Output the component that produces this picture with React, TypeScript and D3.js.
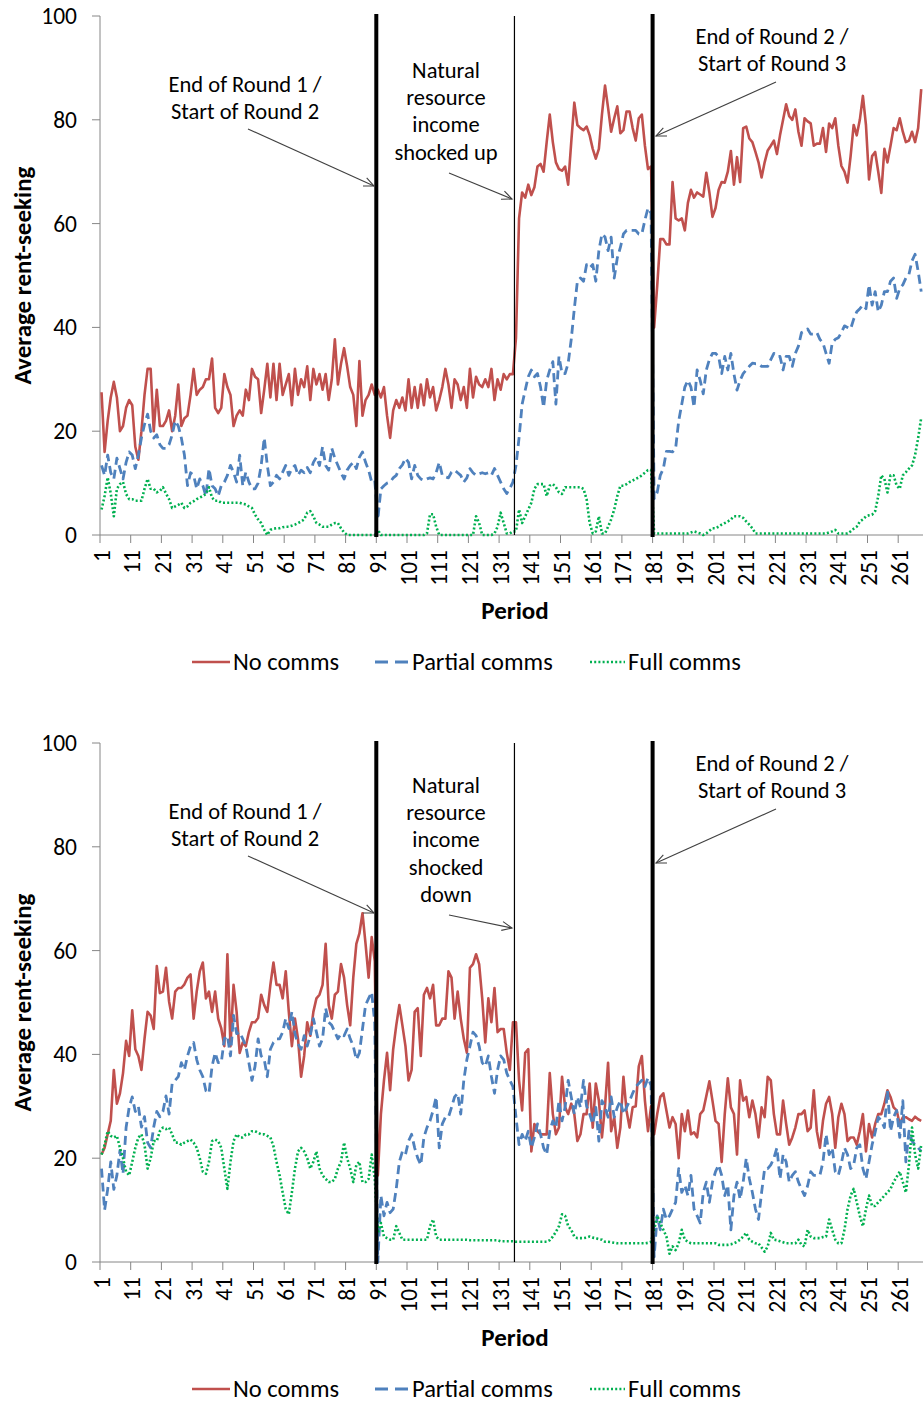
import React from "react";
import * as d3 from "d3";

// ---------- DATA ----------
// Top panel: natural resource income shocked up
const topNoComms = [
  27.5, 16, 22, 26.5, 29.5, 26.5, 20, 21, 24.5, 26,
  25, 17, 14.5, 20, 27, 32, 32, 20, 28, 21,
  21, 22, 24, 20, 23, 29, 21, 22.5, 23, 27,
  32, 27, 28, 28.5, 30, 30, 34, 24.5, 23.5, 24.5,
  31, 28.5, 27, 21, 23, 24, 23, 28, 26, 32,
  30.5, 30, 23.5, 28, 33, 26.5, 33, 26, 33, 27,
  29, 31, 25, 32, 27, 30, 28.5, 32.5, 26, 32,
  29, 31, 28, 31, 26, 30, 37.7, 29, 33, 36,
  32.5, 28.5, 27, 21, 33.5, 23, 26, 27, 29, 27,
  28, 26.5, 28.5, 23, 18.7, 24, 26, 24.5, 26.5, 24,
  30, 24.5, 28.5, 24.5, 29, 25, 30, 26.5, 28.5, 24,
  26, 28.5, 32, 29, 24.5, 30, 29, 26, 28.5, 24.5,
  32, 26.5, 30.5, 29, 28.5, 30, 28.5, 32, 26, 30,
  28, 31, 30, 31, 31, 38, 61, 66, 65, 67.5,
  65.5, 67, 71, 71.5, 70, 75.7, 81, 75.7, 71.8, 70.5,
  70.2, 71, 67.5, 75.7, 83.3, 79, 78.4, 78, 78.7, 77,
  74.4, 72.5, 74.4, 81, 86.6, 82.3, 77.7, 80.3, 82.6, 77.4,
  78, 81.6, 81.6, 78.4, 76, 80.3, 81, 75, 70.5, 71,
  40, 48, 57, 57, 56, 56, 68, 61, 60.6, 61,
  58.7, 64, 66.5, 65, 66, 65.6, 65.2, 69.8, 66, 61.3,
  63, 66.5, 68, 67.9, 70, 74, 67.5, 72.8, 68, 78.4,
  78.7, 76.4, 75.7, 73.8, 71.8, 68.9, 71.8, 74.1, 75, 76,
  73.4, 77, 80, 83, 80.7, 80, 82, 77.7, 75, 80.3,
  79.7, 79.3, 75, 75.4, 75.4, 78.4, 73.8, 79.3, 78.4, 80.3,
  75, 71.1, 70, 67.9, 73, 79, 77, 80, 84.6, 79,
  68.5, 73, 73.8, 70, 65.9, 74.4, 71.8, 75, 78.4, 78,
  80.3, 77.7, 75.7, 76, 77.7, 75.7, 78.4, 85.9,
];

const topPartialComms = [
  13.4, 11.5, 15.4, 12, 10.8, 14.8, 12.8, 10.8, 14, 16,
  15.4, 12.8, 15.4, 18.7, 21.3, 23.3, 20, 18.7, 19.3, 17.4,
  16.7, 16.7, 17.4, 19.3, 22, 21, 18.7, 15.4, 9.5, 12,
  11.5, 8.9, 10.8, 9.5, 7.5, 12.8, 9.5, 8.9, 7.5, 9.5,
  10.2, 11.5, 13.4, 12.1, 10.2, 15.4, 9.5, 12.1, 10.2, 8.9,
  8.9, 10, 13.4, 18.7, 13.4, 9.5, 10.2, 11.5, 10.8, 12.1,
  13.4, 11.5, 12.8, 13.4, 11.5, 12.5, 12, 13, 12, 14,
  15, 13.4, 17, 13.4, 12.5, 16.7, 14.8, 13.4, 12, 10.8,
  12.5, 13.4, 14, 12.8, 15, 16, 14, 12.5, 10.2, 10.5,
  3, 8.9, 9.5, 10, 10.2, 11, 11.5, 12.8, 13.5, 14.8,
  14, 10.8, 13.4, 11.5, 10.8, 10.5, 10.8, 11, 10.8, 12,
  14, 11.5, 11.2, 11, 12.1, 12.5, 12, 11.5, 10.2, 11,
  12.8, 12, 11.5, 11.8, 12, 11.8, 12, 11.5, 12.8, 11.5,
  10.2, 8.9, 8, 9, 10.2, 13.4, 18.7, 25.2, 27.9, 30.5,
  31.8, 30.5, 31.1, 28.5, 24.6, 29.8, 31.8, 33.4, 25.2, 34.4,
  31.1, 31.1, 33.1, 37.7, 43.6, 48.9, 49.5, 48.9, 52.1, 51.5,
  52.1, 48.9, 54.8, 58, 57.4, 54.8, 57.4, 49.5, 53.4, 55.4,
  58, 58.7, 58.7, 58.7, 58.7, 58, 58, 60.7, 63, 62,
  7, 8.2, 11.5, 12.8, 16.1, 16.1, 16, 16.7, 22, 25.2,
  28.5, 29.8, 28.5, 24.6, 31.8, 29.8, 27.2, 31.8, 33.8, 35,
  35, 34.4, 31.1, 34.4, 31.8, 35, 31, 27.9, 29.8, 31.1,
  31.8, 32.5, 33.1, 33, 33, 32.5, 32.5, 32.5, 33.8, 35,
  34.4, 34.4, 31.8, 34.4, 34.4, 32.5, 35, 36.4, 39, 39.3,
  39.7, 38.7, 38.7, 39, 37.7, 37, 35, 33.1, 37, 37.7,
  38, 39, 40.3, 40, 39.7, 41.6, 43, 43.6, 44.3, 43.6,
  48.2, 44.3, 46.9, 43, 44.3, 46.9, 46.9, 48.9, 49.5, 45.6,
  47.5, 48.2, 49.5, 50.2, 52.8, 54.1, 50.8, 46.9,
];

const topFullComms = [
  4.9, 7.5, 11.1, 8, 3.6, 8.9, 9.8, 10.2, 7.9, 6.9,
  6.9, 6.6, 6.6, 6.6, 8.9, 10.8, 8.9, 8.9, 8.2, 8.5,
  9.2, 8, 6.9, 5.2, 5.5, 5.8, 6.2, 5.2, 5.5, 6.2,
  6.5, 6.9, 7.2, 7.5, 7.9, 9.2, 7.2, 6.6, 6.6, 6.2,
  6.2, 6.2, 6.2, 6.2, 6.2, 6.2, 6, 5.9, 5.5, 5.2,
  3.9, 3, 2.3, 1, 0, 1, 1.2, 1.3, 1.3, 1.5,
  1.6, 1.6, 1.8, 2, 2.3, 2.6, 3, 4.3, 4.6, 3.6,
  2.3, 2, 1.6, 1.6, 1.6, 2, 2.3, 2.3, 1.3, 0.5,
  0, 0, 0, 0, 0, 0, 0, 0, 0, 0,
  1, 0, 0, 0, 0, 0, 0, 0, 0, 0,
  0, 0, 0, 0, 0, 0, 0.3, 4, 4, 1.6,
  0, 0, 0, 0, 0, 0, 0, 0, 0, 0,
  0, 0, 3.6, 2.3, 0, 0, 0, 0, 0.3, 1.6,
  4.3, 2.3, 0.3, 0.3, 0.7, 0.7, 4.9, 2.3, 3.6, 4.9,
  6.2, 8.9, 9.8, 9.8, 9.8, 7.5, 9.5, 9.8, 9.2, 8.2,
  7.9, 9.2, 9.2, 9.2, 9.2, 9.2, 9.2, 8.9, 6.9, 2.3,
  0.3, 0.7, 3.6, 0.3, 0.3, 1.6, 3, 4.9, 7.5, 9.5,
  9.5, 9.8, 10.2, 10.5, 10.8, 11.1, 11.5, 12, 12.5, 12.5,
  0.3, 0.3, 0.3, 0.3, 0.3, 0.3, 0.3, 0.3, 0.3, 0.3,
  0.3, 0.3, 0.5, 0.7, 0.5, 0.3, 0, 0.3, 0.8, 1.3,
  1.3, 1.6, 2, 2.3, 2.6, 3, 3.6, 3.6, 3.6, 3.3,
  2.6, 2, 1.3, 0.3, 0.3, 0.3, 0.3, 0.3, 0.3, 0.3,
  0.3, 0.3, 0.3, 0.3, 0.3, 0.3, 0.3, 0.3, 0.3, 0.3,
  0.3, 0.3, 0.3, 0.3, 0.3, 0.3, 0.3, 0.5, 0.7, 1,
  0.3, 0.3, 0.3, 0.3, 0.7, 1.2, 1.6, 2.6, 3, 3.6,
  3.8, 3.9, 4.6, 7.5, 11.5, 10.8, 8.2, 11.5, 11.5, 9.5,
  8.9, 11.5, 12.1, 12.8, 13.4, 15.4, 18.7, 22.6,
];

// Bottom panel: natural resource income shocked down
const bottomNoComms = [
  20.7, 22, 24.6, 27.2, 37, 30.5, 32.5, 36.4, 42.6, 39.7,
  48.5, 41, 39.7, 37, 43, 48.2, 47.5, 44.9, 57, 51.8,
  52.1, 56.7, 50.2, 46.9, 52.1, 52.8, 52.8, 53.5, 54.8, 55.4,
  46.9, 52.1, 56, 57.7, 50.8, 52.1, 48.2, 52.1, 46.9, 45,
  41.6, 59.3, 41.6, 53.4, 48.2, 40.3, 42.3, 41.6, 44.3, 46.2,
  46.2, 47, 51.5, 49.5, 48.2, 53.4, 57.7, 53.4, 53.4, 50.8,
  56, 48.2, 41.6, 46.9, 43, 35.7, 39.7, 46.2, 43.6, 48.2,
  50.8, 51.5, 53.4, 61.3, 49.5, 46.9, 51.5, 52.1, 57.4, 54.8,
  49.5, 45.6, 54.8, 61.3, 63.3, 67.2, 61.3, 54.8, 62.6, 58,
  16.7, 28.5, 35, 40.3, 33.1, 41, 45.6, 49.5, 45.6, 41.6,
  35, 37, 48.2, 48.9, 39.7, 51.5, 52.8, 50.8, 53.4, 45.6,
  45.6, 46.9, 46.9, 56, 54.8, 46.9, 52.1, 46.9, 43, 40.3,
  56.7, 57.4, 59.3, 57.4, 50.8, 42.3, 50.8, 46.2, 52.8, 44.3,
  44.9, 44.9, 40.3, 37, 46.2, 46.2, 35, 29.2, 40.3, 41,
  21.3, 26.6, 25.2, 24.6, 24.6, 24.6, 36.4, 28.5, 24.6, 25.9,
  35.7, 29.8, 28.5, 30.5, 28.5, 23.3, 24.6, 28.5, 28.5, 34.4,
  25.9, 34.4, 31.1, 24, 30, 38.4, 25.2, 27.9, 22, 25.9,
  35.7, 29.2, 25.9, 29.8, 30, 37.7, 39.7, 31.1, 25.2, 30,
  24.6, 28.5, 31.8, 32.5, 29.2, 25.9, 27.9, 26.6, 20, 28.5,
  25.2, 29.2, 24.6, 25, 24, 28.5, 29.2, 32, 34.8, 31.1,
  27.2, 26.6, 19.3, 28.5, 35.4, 29.8, 28.5, 20.7, 35, 31.1,
  31.8, 27.9, 31.1, 28.5, 24, 29.8, 27.9, 35.7, 35, 28.5,
  24.6, 24.6, 31.1, 26.6, 22.6, 24, 25.9, 28.5, 28.5, 29.2,
  25.2, 25.9, 33.1, 25.2, 22, 27.2, 30.5, 31.8, 28.5, 22,
  27.9, 30.5, 28.5, 23.3, 24, 24, 22.6, 25.2, 28.5, 21.3,
  26.6, 24, 26.6, 28.5, 28.5, 30.5, 33.1, 31.8, 29.8, 29.2,
  26.6, 27.9, 27.9, 27.5, 27.2, 28, 27.5, 27.2,
];

const bottomPartialComms = [
  18, 10, 14, 19.3, 14, 16.7, 21.5, 17, 25.9, 29.8,
  31.8, 29, 30, 26, 28, 23, 22, 26, 29, 28,
  29, 32, 28.5, 34.4, 35, 35.7, 38.4, 37, 39.7, 41.6,
  42.3, 39, 37, 35.7, 33, 32.5, 37.7, 40.3, 38.4, 38.4,
  43, 43.6, 39.7, 47.5, 44, 44.3, 43, 41.6, 38.4, 35,
  37.7, 43, 39.7, 39, 35.7, 41, 42.3, 43, 43, 44.3,
  46.9, 45, 48.2, 44, 42, 41, 43.6, 41.6, 43.6, 46.9,
  44.3, 41.6, 43, 48.9, 46.2, 45.6, 44.3, 43, 44, 43.6,
  44.9, 43, 41.6, 39, 40.3, 44.9, 49.5, 50.8, 52, 46,
  0, 12.8, 8.9, 11.5, 9.5, 10.2, 14.1, 19.3, 21.3, 20.7,
  23.3, 24.6, 22, 20, 18.7, 24, 25.9, 27.2, 29.2, 31.8,
  22, 26.6, 27.9, 27.9, 29.8, 31.8, 32.5, 28.5, 35, 39,
  41.6, 44.3, 43.6, 41.6, 38.4, 37.7, 39.7, 35.7, 32.5, 37,
  39.7, 39, 36.4, 35, 33.8, 27.9, 22.6, 24.6, 23.3, 25.2,
  22, 24, 26.6, 24.6, 22, 20.7, 25.2, 27.2, 25.9, 31.1,
  27.2, 29.8, 35, 31.8, 28.5, 31.8, 29.8, 35, 30, 28.5,
  26.6, 29.8, 23.3, 31.1, 29.8, 27.9, 31.8, 27.9, 29.8, 31.1,
  28.5, 29.8, 31, 32.5, 33.8, 34.4, 35, 33.8, 35.5, 34,
  1, 8.9, 6.2, 10.2, 8.2, 8.9, 10.2, 11.5, 18, 13.4,
  14.8, 12.8, 16.7, 10.2, 8.9, 7.5, 13.4, 15.4, 11.5, 15.4,
  17.4, 18.7, 16.7, 12.8, 14.8, 6.2, 12.8, 15.4, 12.1, 15.4,
  20, 16.1, 13.4, 10.2, 8.2, 13.4, 18, 18, 18.7, 20,
  22, 16, 20.7, 19.3, 15.4, 16.7, 17.4, 15.4, 14, 12.8,
  14.7, 17.4, 16.7, 16.7, 16.7, 19.3, 24.6, 20.7, 22, 17.4,
  16.7, 19, 22, 20.7, 18, 18.7, 22, 22.6, 18, 16,
  19.3, 22.6, 25, 27.9, 27.2, 25.9, 33.1, 25.2, 27.9, 29.2,
  24, 31.1, 19.3, 25.2, 23.3, 22.6, 22, 21.3,
];

const bottomFullComms = [
  20.7, 22.6, 25.2, 24.3, 24, 24.3, 22, 20, 17.4, 16.7,
  19.3, 22, 24, 24.6, 22.6, 18, 20, 23.3, 23.3, 25.2,
  25.9, 25.6, 25.9, 24.6, 23, 23, 22.6, 23, 23.3, 23.6,
  23, 22, 20, 17.4, 17, 19.3, 23.3, 23.6, 23.3, 22,
  18, 14.1, 19.3, 23.3, 24.6, 24, 24, 24.6, 24.6, 25.2,
  25.2, 24.9, 24.6, 24.6, 24.3, 24, 22.3, 19.3, 16.7, 13.4,
  10.2, 9.2, 13.4, 18, 21.3, 22, 21.3, 20, 18, 19.3,
  21.3, 18, 16.7, 16, 15.4, 15.4, 16, 18, 19.3, 23,
  20, 18, 15.4, 18.7, 19.3, 15.4, 15.4, 16, 20.7, 16,
  5.6, 7.5, 4.9, 4.6, 4.3, 4.3, 6.9, 5.6, 4.3, 4.3,
  4.3, 4.3, 4.3, 4.3, 4.3, 4.3, 4.3, 6.9, 8.2, 4.9,
  4.3, 4.3, 4.3, 4.3, 4.3, 4.3, 4.3, 4.3, 4.3, 4.3,
  4.2, 4.2, 4.2, 4.2, 4.2, 4.2, 4.2, 4.2, 4.2, 4.2,
  4, 4, 4, 4, 4, 3.9, 3.9, 3.9, 3.9, 3.9,
  3.9, 3.9, 3.9, 3.9, 3.9, 3.9, 4.2, 4.9, 5.8, 6.9,
  9.2, 8.9, 6.9, 6.2, 4.9, 4.6, 4.6, 4.6, 4.7, 4.9,
  4.7, 4.6, 4.4, 4.3, 3.9, 3.9, 3.8, 3.7, 3.6, 3.6,
  3.6, 3.6, 3.6, 3.6, 3.6, 3.6, 3.6, 3.6, 3.7, 3.9,
  6.2, 8.9, 7.5, 6.2, 4.9, 1.6, 3, 2.3, 3.6, 6.2,
  4.3, 3.9, 3.6, 3.6, 3.6, 3.6, 3.6, 3.6, 3.6, 3.6,
  3.6, 3.3, 3.3, 3.3, 3.3, 3.4, 3.6, 3.9, 4.3, 4.9,
  5.6, 4.3, 3.9, 3.6, 3.6, 2.8, 2, 3, 5.6, 4.3,
  4.2, 4, 3.8, 3.6, 3.6, 3.6, 3.6, 4.3, 3.3, 3,
  6.2, 4.9, 4.6, 4.6, 4.6, 4.8, 4.9, 8.2, 6.2, 4.3,
  3.6, 3.6, 6.2, 10.2, 12.8, 14.1, 11.5, 8.9, 6.9, 10.2,
  12.8, 10.8, 10.8, 11.5, 12.1, 12.8, 13.4, 14.1, 15.4, 16.4,
  17.4, 15.4, 13.4, 18.7, 25.9, 20.7, 18, 22.6,
];

const seriesNames = ["No comms", "Partial comms", "Full comms"];
const yTicks = [0, 20, 40, 60, 80, 100];
const xLabelPeriods = [1, 11, 21, 31, 41, 51, 61, 71, 81, 91, 101, 111, 121, 131, 141, 151, 161, 171, 181, 191, 201, 211, 221, 231, 241, 251, 261];
const roundEndPeriods = [90, 180];
const shockPeriod = 135;
const topShockText = ["Natural", "resource", "income", "shocked up"];
const bottomShockText = ["Natural", "resource", "income", "shocked", "down"];

// ---------- LAYOUT / STYLE ----------
const W = 923;
const H = 1403;
const N_PERIODS = 270;
const X0 = 100;
const BAND = 3.07;
const Y_BOTTOM = 535;
const Y_TOP = 16;
const PANEL_OFFSET = 727;
const FONT = "Carlito, Lato, 'Open Sans', sans-serif";
const COLORS = ["#C0504D", "#4F81BD", "#00B050"];
const DASH = [null, "9 5", "2 2.2"];
const WIDTH = [2.6, 2.8, 2.6];
const AXIS = "#868686";
const TICK_FONT = 23.5;
const TITLE_FONT = 25;
const NOTE_FONT = 22.5;
const LEGEND_FONT = 24.5;

type Arrow = { x1: number; y1: number; x2: number; y2: number };

function ArrowShape({ a }: { a: Arrow }) {
  const ang = Math.atan2(a.y2 - a.y1, a.x2 - a.x1);
  const L = 11;
  const spread = 0.42;
  const p1 = [a.x2 - L * Math.cos(ang - spread), a.y2 - L * Math.sin(ang - spread)];
  const p2 = [a.x2 - L * Math.cos(ang + spread), a.y2 - L * Math.sin(ang + spread)];
  return (
    <g stroke="#404040" strokeWidth={1.1} fill="none">
      <line x1={a.x1} y1={a.y1} x2={a.x2} y2={a.y2} />
      <path d={`M${p1[0]},${p1[1]} L${a.x2},${a.y2} L${p2[0]},${p2[1]}`} />
    </g>
  );
}

function Panel({
  off,
  series,
  shockText,
  shockTextTop,
  shockArrow,
}: {
  off: number;
  series: number[][];
  shockText: string[];
  shockTextTop: number;
  shockArrow: Arrow;
}) {
  const x = d3
    .scaleBand<number>()
    .domain(d3.range(1, N_PERIODS + 1))
    .range([X0, X0 + N_PERIODS * BAND])
    .paddingInner(0)
    .paddingOuter(0);
  const cx = (p: number) => (x(p) as number) + x.bandwidth() / 2;
  const y = d3.scaleLinear().domain([0, 100]).range([Y_BOTTOM, Y_TOP]);
  const line = d3
    .line<number>()
    .x((_, i) => cx(i + 1))
    .y((d) => y(d));

  const boundary = (p: number) => (x(p + 1) as number);
  const tickBoundaries = xLabelPeriods.map((p) => x(p) as number);

  const legendItems = [
    { lx1: 192, lx2: 230, tx: 233 },
    { lx1: 375, lx2: 408, tx: 412 },
    { lx1: 590, lx2: 625, tx: 628 },
  ];
  const legendDash = [null, "13 7", "2 2.2"];

  return (
    <g transform={`translate(0,${off})`}>
      {/* axes */}
      <line x1={X0} y1={Y_TOP} x2={X0} y2={Y_BOTTOM} stroke={AXIS} strokeWidth={1} />
      <line x1={X0} y1={Y_BOTTOM} x2={W + 10} y2={Y_BOTTOM} stroke={AXIS} strokeWidth={1} />
      {yTicks.map((t) => (
        <g key={t}>
          <line x1={X0 - 8} x2={X0} y1={y(t)} y2={y(t)} stroke={AXIS} />
          <text
            x={77}
            y={y(t)}
            textAnchor="end"
            dominantBaseline="central"
            fontFamily={FONT}
            fontSize={TICK_FONT}
            fill="#000"
          >
            {t}
          </text>
        </g>
      ))}
      {tickBoundaries.map((bx, i) => (
        <line key={i} x1={bx} x2={bx} y1={Y_BOTTOM} y2={Y_BOTTOM + 8} stroke={AXIS} />
      ))}
      {xLabelPeriods.map((p) => (
        <text
          key={p}
          transform={`translate(${cx(p)},${Y_BOTTOM + 15}) rotate(-90)`}
          textAnchor="end"
          dominantBaseline="central"
          fontFamily={FONT}
          fontSize={TICK_FONT}
          fill="#000"
        >
          {p}
        </text>
      ))}
      <text
        transform={`translate(22,${(Y_TOP + Y_BOTTOM) / 2}) rotate(-90)`}
        textAnchor="middle"
        dominantBaseline="central"
        fontFamily={FONT}
        fontWeight="bold"
        fontSize={TITLE_FONT}
        fill="#000"
      >
        Average rent-seeking
      </text>
      <text
        x={515}
        y={610}
        textAnchor="middle"
        dominantBaseline="central"
        fontFamily={FONT}
        fontWeight="bold"
        fontSize={TITLE_FONT}
        fill="#000"
      >
        Period
      </text>

      {/* series */}
      {series.map((s, i) => (
        <path
          key={i}
          d={line(s) || ""}
          fill="none"
          stroke={COLORS[i]}
          strokeWidth={WIDTH[i]}
          strokeDasharray={DASH[i] || undefined}
          strokeLinejoin="round"
        />
      ))}

      {/* round / shock markers */}
      {roundEndPeriods.map((p) => (
        <line
          key={p}
          x1={boundary(p)}
          x2={boundary(p)}
          y1={Y_TOP - 2}
          y2={Y_BOTTOM + 2}
          stroke="#000"
          strokeWidth={4}
        />
      ))}
      <line
        x1={boundary(shockPeriod)}
        x2={boundary(shockPeriod)}
        y1={Y_TOP}
        y2={Y_BOTTOM}
        stroke="#000"
        strokeWidth={1.2}
      />

      {/* annotations */}
      <g fontFamily={FONT} fontSize={NOTE_FONT} fill="#000" textAnchor="middle">
        <text x={245} y={84} dominantBaseline="central">End of Round  1 /</text>
        <text x={245} y={111} dominantBaseline="central">Start of Round  2</text>
        <text x={772} y={36} dominantBaseline="central">End of Round  2 /</text>
        <text x={772} y={63} dominantBaseline="central">Start of Round  3</text>
        {shockText.map((t, i) => (
          <text key={i} x={446} y={shockTextTop + i * 27.4} dominantBaseline="central">
            {t}
          </text>
        ))}
      </g>
      <ArrowShape a={{ x1: 248, y1: 129, x2: 374, y2: 186 }} />
      <ArrowShape a={shockArrow} />
      <ArrowShape a={{ x1: 776, y1: 82, x2: 656, y2: 136 }} />

      {/* legend */}
      {legendItems.map((it, i) => (
        <g key={i}>
          <line
            x1={it.lx1}
            x2={it.lx2}
            y1={662}
            y2={662}
            stroke={COLORS[i]}
            strokeWidth={WIDTH[i]}
            strokeDasharray={legendDash[i] || undefined}
          />
          <text
            x={it.tx}
            y={662}
            dominantBaseline="central"
            fontFamily={FONT}
            fontSize={LEGEND_FONT}
            fill="#000"
          >
            {seriesNames[i]}
          </text>
        </g>
      ))}
    </g>
  );
}

export default function App() {
  return (
    <div style={{ position: "absolute", left: 0, top: 0, width: W, height: H, background: "#fff" }}>
      <svg width={W} height={H} viewBox={`0 0 ${W} ${H}`} style={{ display: "block" }}>
        <rect x={0} y={0} width={W} height={H} fill="#fff" />
        <Panel
          off={0}
          series={[topNoComms, topPartialComms, topFullComms]}
          shockText={topShockText}
          shockTextTop={70}
          shockArrow={{ x1: 449, y1: 173, x2: 512, y2: 199 }}
        />
        <Panel
          off={PANEL_OFFSET}
          series={[bottomNoComms, bottomPartialComms, bottomFullComms]}
          shockText={bottomShockText}
          shockTextTop={58}
          shockArrow={{ x1: 449, y1: 188, x2: 512, y2: 201 }}
        />
      </svg>
    </div>
  );
}
